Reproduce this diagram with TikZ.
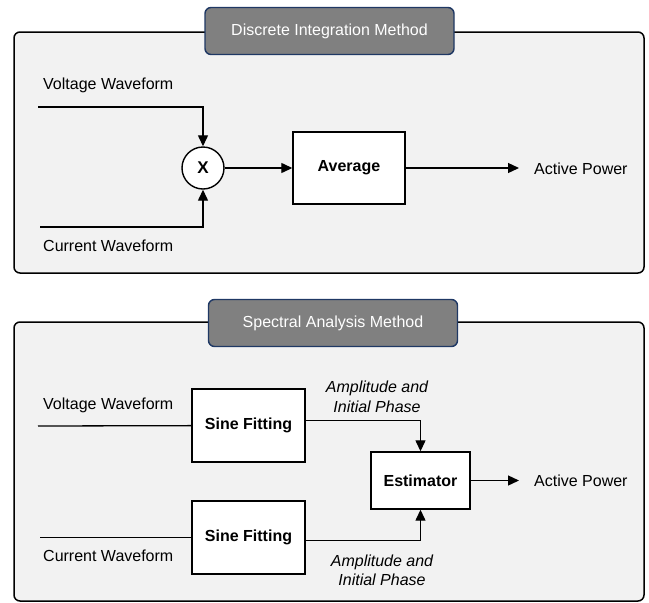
\documentclass[tikz,border=0pt]{standalone}
\usepackage{fontspec}
\setmainfont{Liberation Sans}
\usepackage{xcolor}
\usetikzlibrary{arrows.meta,positioning}

\definecolor{panelgray}{HTML}{F2F2F2}
\definecolor{tabgray}{HTML}{808080}
\definecolor{tabnavy}{HTML}{1F3864}

\begin{document}
\begin{tikzpicture}[x=1pt,y=-1pt,
    panel/.style={draw=black,line width=1.5pt,fill=panelgray,rounded corners=6pt},
    tabbox/.style={draw=tabnavy,line width=1.4pt,fill=tabgray,rounded corners=6pt,
        minimum width=249pt,minimum height=47pt,text=white,font=\fontsize{16}{19}\selectfont},
    blockbox/.style={draw=black,line width=1.4pt,fill=white,font=\bfseries\fontsize{16}{19}\selectfont},
    lbl/.style={inner sep=0pt,anchor=base west,font=\fontsize{16}{19}\selectfont},
    note/.style={inner sep=0pt,align=center,font=\itshape\fontsize{16}{19.5}\selectfont},
    wire/.style={line width=1.3pt},
    arr/.style={line width=1.3pt,-{Triangle[length=11pt,width=10pt]}}]

\useasboundingbox (0,0) rectangle (649,603);

% Discrete integration panel
\draw[panel] (14,32) rectangle (644,273);
\node[tabbox] (tabA) at (329.5,31) {Discrete Integration Method};

\node[lbl] (vlabA) at (43,89) {Voltage Waveform};
\node[lbl] (clabA) at (43,251) {Current Waveform};
\coordinate (vinA) at (38,107);
\coordinate (cinA) at (40,227);

\node[draw,circle,line width=1.4pt,fill=white,minimum size=42pt,inner sep=0pt,
      font=\bfseries\fontsize{17}{19}\selectfont] (mult) at (203,168) {X};
\node[blockbox,minimum width=112pt,minimum height=72pt] (avg) at (349,168) {Average};
\coordinate (poutA) at (519,168);
\node[lbl] (plabA) at (534,174) {Active Power};

\draw[arr] (vinA) -| (mult);
\draw[arr] (cinA) -| (mult);
\draw[arr] (mult) -- (avg);
\draw[arr] (avg) -- (poutA);

% Spectral analysis panel
\draw[panel] (14,322) rectangle (644,601);
\node[tabbox] (tabB) at (333,323) {Spectral Analysis Method};

\node[lbl] (vlabB) at (43,409.5) {Voltage Waveform};
\node[lbl] (clabB) at (43,561.5) {Current Waveform};
\coordinate (vinB) at (38,426);
\coordinate (cinB) at (40,537.5);

\node[blockbox,minimum width=113pt,minimum height=73pt] (fitV) at (248.5,425.5) {Sine Fitting};
\node[blockbox,minimum width=113pt,minimum height=73pt] (fitC) at (248.5,537.5) {Sine Fitting};
\node[blockbox,minimum width=99pt,minimum height=57pt] (est) at (420.5,480.5) {Estimator};
\coordinate (poutB) at (519,480.5);
\node[lbl] (plabB) at (534,486.5) {Active Power};

\draw[wire] (vinB) -- (fitV);
\draw[wire] (cinB) -- (fitC);
\draw[arr] ([yshift=5pt]fitV.east) -| (est);
\draw[arr] ([yshift=-3pt]fitC.east) -| (est);
\draw[arr] (est) -- (poutB);

% Labels
\node[note] (ampV) at (377,397) {Amplitude and\\Initial Phase};
\node[note] (ampC) at (382,570.5) {Amplitude and\\Initial Phase};

\end{tikzpicture}
\end{document}
